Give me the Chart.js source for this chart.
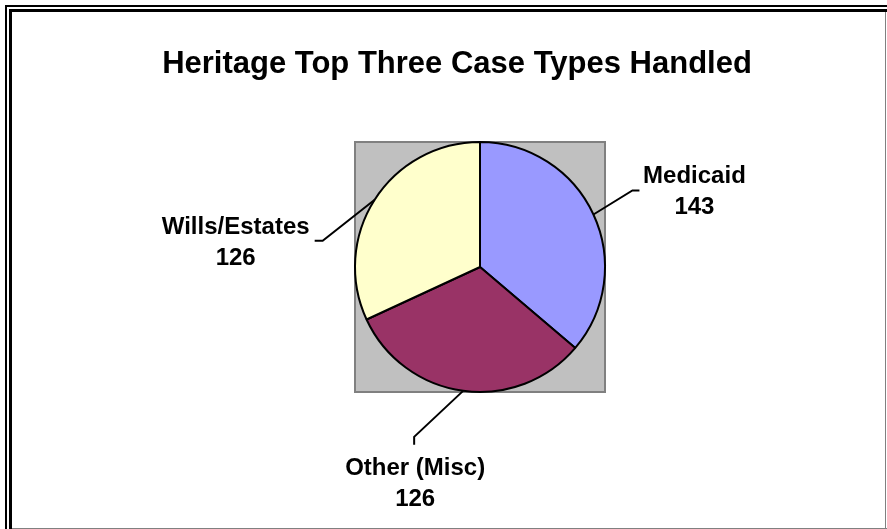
<!DOCTYPE html>
<html>
<head>
<meta charset="utf-8">
<script src="https://cdn.jsdelivr.net/npm/chart.js@4.4.1/dist/chart.umd.min.js"></script>
<style>
  html, body { margin: 0; padding: 0; background: #fff; }
  canvas { display: block; }
</style>
</head>
<body>
<canvas id="caseTypes" width="887" height="529"></canvas>
<script>
const categories = ['Medicaid', 'Other (Misc)', 'Wills/Estates'];
const caseCounts = [143, 126, 126];
const sliceColors = ['#9999FF', '#993366', '#FFFFCC'];
const chartTitle = 'Heritage Top Three Case Types Handled';

// where each callout goes, relative to the point on the slice edge
const callouts = [
    { elbow: [39, -24], end: [46, -24], text: [101, -31] },
    { elbow: [-49, 46], end: [-49, 54], text: [-48, 84] },
    { elbow: [-52, 41], end: [-60, 41], text: [-139, 34] }
];

const LABEL_FONT = 'bold 24px "Liberation Sans", Arial, sans-serif';
const TITLE_FONT = 'bold 31px "Liberation Sans", Arial, sans-serif';

// frame, title and the grey square behind the pie
const backdrop = {
    id: 'backdrop',
    beforeDraw(chart) {
        const c = chart.ctx;
        const W = chart.width, H = chart.height;
        c.save();
        c.fillStyle = '#fff';
        c.fillRect(0, 0, W, H);

        // double frame (right and bottom run off the page)
        c.fillStyle = '#000';
        c.fillRect(5, 5, W - 5, 2);
        c.fillRect(5, 5, 2, H - 5);
        c.fillRect(9, 9, W - 9, 3);
        c.fillRect(9, 9, 3, H - 9);
        c.fillStyle = '#808080';
        c.fillRect(12, H - 1, W - 12, 1);
        c.fillRect(W - 2, 12, 1, H - 12);

        c.fillStyle = '#000';
        c.font = TITLE_FONT;
        c.textAlign = 'center';
        c.textBaseline = 'alphabetic';
        c.fillText(chartTitle, 457, 73);

        const arc = chart.getDatasetMeta(0).data[0];
        const r = arc.outerRadius;
        c.fillStyle = '#C0C0C0';
        c.fillRect(arc.x - r, arc.y - r, 2 * r, 2 * r);
        c.strokeStyle = '#808080';
        c.lineWidth = 2;
        c.strokeRect(arc.x - r, arc.y - r, 2 * r, 2 * r);
        c.restore();
    }
};

// leader lines with category name and count
const sliceLabels = {
    id: 'sliceLabels',
    afterDatasetsDraw(chart) {
        const c = chart.ctx;
        const meta = chart.getDatasetMeta(0);
        c.save();
        c.strokeStyle = '#000';
        c.lineWidth = 2;
        c.fillStyle = '#000';
        c.font = LABEL_FONT;
        c.textAlign = 'center';
        c.textBaseline = 'alphabetic';
        meta.data.forEach((arc, i) => {
            const mid = (arc.startAngle + arc.endAngle) / 2;
            const ax = arc.x + Math.cos(mid) * arc.outerRadius;
            const ay = arc.y + Math.sin(mid) * arc.outerRadius;
            const co = callouts[i];
            c.beginPath();
            c.moveTo(ax, ay);
            c.lineTo(ax + co.elbow[0], ay + co.elbow[1]);
            c.lineTo(ax + co.end[0], ay + co.end[1]);
            c.stroke();
            const tx = ax + co.text[0], ty = ay + co.text[1];
            c.fillText(categories[i], tx, ty);
            c.fillText(String(caseCounts[i]), tx, ty + 31);
        });
        c.restore();
    }
};

new Chart(document.getElementById('caseTypes'), {
    type: 'pie',
    data: {
        labels: categories,
        datasets: [{
            data: caseCounts,
            backgroundColor: sliceColors,
            borderColor: '#000',
            borderWidth: 2
        }]
    },
    options: {
        responsive: false,
        animation: false,
        radius: 125,
        layout: { padding: { left: 200, right: 127, top: 100, bottom: 95 } },
        plugins: {
            legend: { display: false },
            tooltip: { enabled: false },
            title: { display: false }
        }
    },
    plugins: [backdrop, sliceLabels]
});
</script>
</body>
</html>
